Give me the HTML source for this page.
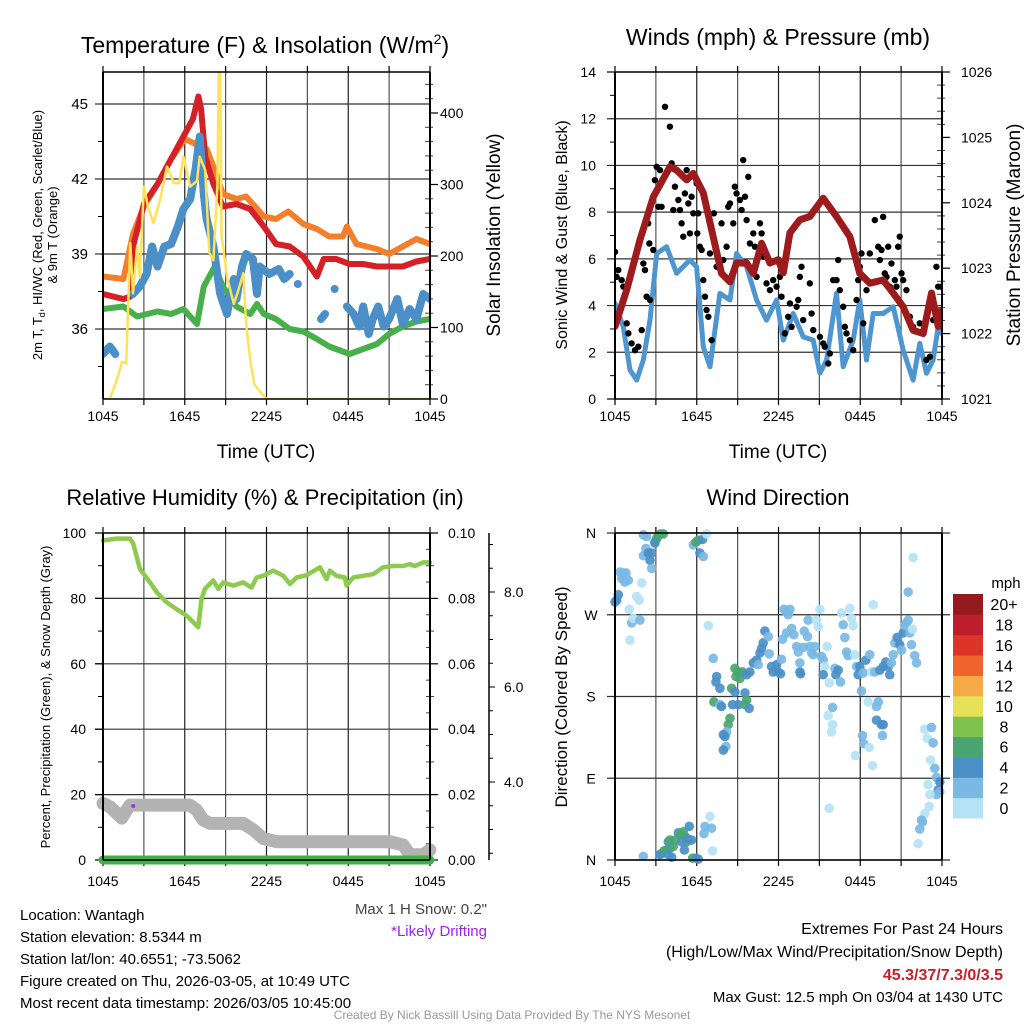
<!DOCTYPE html>
<html><head><meta charset="utf-8"><style>
body{margin:0;background:#fff;}
svg{display:block;font-family:"Liberation Sans",Arial,sans-serif;}
</style></head><body>
<svg id="c" width="1024" height="1024" viewBox="0 0 1024 1024" xmlns="http://www.w3.org/2000/svg">
<defs>
<clipPath id="cp1"><rect x="103" y="72" width="327" height="327"/></clipPath>
<clipPath id="cp2"><rect x="615" y="72" width="327" height="327"/></clipPath>
<clipPath id="cp3"><rect x="96" y="526" width="341" height="341"/></clipPath>
<clipPath id="cp4"><rect x="608" y="526" width="341" height="341"/></clipPath>
</defs>
</svg>
<script>
// ---------- Panel 1 data: temperature & insolation ----------
const redH=[0,1.5,2,2.2,3,4,5,5.9,6.6,7,7.2,7.5,8.1,8.8,9.8,10.8,11.8,12.7,13.7,14.7,15.7,16.2,17.1,18.1,19.1,20.1,21,22,23,24];
const redT=[37.4,37.2,37.3,39.3,41.0,41.8,42.8,43.7,44.4,45.3,44.8,42.9,41.8,40.9,41.0,40.8,40.1,39.4,39.3,38.9,38.1,38.8,38.8,38.6,38.6,38.5,38.5,38.5,38.7,38.8];
const orH=[0,1.5,2.2,3,4,5,6,7.6,8.3,8.8,9.8,10.5,11.8,12.7,13.6,14.7,15.7,16.6,17.6,17.9,18.6,20.1,21,22,23,24];
const orT=[38.1,38.0,39.8,40.9,41.8,42.8,43.6,43.2,42.2,41.4,41.2,41.3,40.5,40.4,40.7,40.2,40.0,39.7,39.7,40.1,39.4,39.2,39.0,39.3,39.6,39.4];
const grH=[0,1.5,2.5,4,5,5.9,6.9,7.4,8.2,8.8,9.8,10.8,11.3,11.8,12.7,13.7,14.7,15.7,16.6,18.1,19.1,20.1,21,22,23,24];
const grT=[36.8,36.9,36.5,36.7,36.6,36.8,36.2,37.7,38.5,37.7,36.9,36.6,37.0,36.6,36.4,36.0,35.9,35.6,35.3,35.0,35.2,35.4,35.8,36.1,36.3,36.4];
const blH=[0,0.5,0.9,null,2.2,2.7,3.2,3.6,4,4.5,5,5.5,5.9,6.4,6.8,7.1,7.4,7.6,8.1,8.6,9.1,9.6,9.8,10.2,10.5,11,11.3,11.5,12.2,12.9,13.3,13.7,null,14.3,null,16,16.3,null,17,null,17.9,18.4,18.8,19.1,19.5,19.8,20.2,20.6,21,21.6,22,22.5,23,23.5,24];
const blT=[35.0,35.3,35.0,null,37.4,37.7,38.2,39.3,38.5,39.3,39.4,40.1,40.8,41.2,42.4,43.7,41.4,40.4,39.3,37.4,36.6,38.0,37.2,38.5,39.0,38.8,37.4,38.5,38.2,38.4,38.0,38.2,null,37.8,null,36.4,36.6,null,37.6,null,36.9,36.6,36.1,36.9,35.8,36.4,36.9,36.1,36.4,37.2,36.2,36.8,36.4,37.4,37.2];
const soH=[0,0.5,1,1.4,1.7,2,2.2,2.5,2.7,3,3.3,3.7,4.2,4.7,5.2,5.6,5.9,6.4,6.9,7.1,7.5,7.8,8.1,8.4,8.5,8.6,8.7,9.1,9.6,9.9,10.3,10.5,10.8,11.1,11.6,12,24];
const soV=[0,0,26,52,50,218,148,213,170,297,269,246,279,325,302,302,339,297,305,339,320,204,194,300,470,470,230,171,133,150,176,106,55,21,9,0,0];
const tempTicks=[36,39,42,45];
const solarTicks=[0,100,200,300,400];
const timeLabels=["1045","1645","2245","0445","1045"];
// ---------- Panel 2 data: winds & pressure ----------
const prH=[0,0.86,1.83,2.81,4.03,4.52,5.26,5.75,6.48,7.21,7.82,8.44,8.92,9.66,10.15,10.76,11.37,11.98,12.35,12.84,13.57,14.3,15.28,16.26,17.24,17.97,18.7,19.68,20.42,21.15,21.88,22.62,23.23,23.72,23.96];
const prP=[1022.11,1022.67,1023.43,1024.09,1024.55,1024.50,1024.35,1024.45,1024.15,1023.48,1022.92,1022.79,1023.08,1023.08,1022.92,1023.38,1023.08,1023.13,1022.93,1023.54,1023.74,1023.79,1024.07,1023.79,1023.48,1022.92,1022.77,1022.82,1022.62,1022.41,1022.05,1022.0,1022.62,1022.11,1022.36];
const wsH=[0,0.61,1.1,1.59,2.08,2.57,3.06,3.79,4.52,5.5,5.99,6.48,6.97,7.7,8.44,8.92,9.66,10.39,11.12,11.86,12.35,13.08,13.81,14.55,15.04,15.53,16.26,16.75,17.48,17.97,18.46,18.95,19.68,20.42,21.15,21.88,22.37,22.86,23.35,23.72,23.96];
const wsV=[4.09,3.09,1.24,0.81,1.67,3.38,6.23,6.52,5.38,5.95,5.66,2.24,1.38,4.52,4.24,6.23,5.66,4.24,3.38,4.24,2.52,3.66,2.66,2.52,1.1,1.67,4.52,1.38,2.52,4.24,1.67,3.66,3.66,3.95,2.09,0.81,2.38,1.1,1.67,3.09,2.81];
const gustH=[0,0.12,0.24,0.49,0.61,0.86,0.98,1.22,1.47,1.71,1.96,2.08,2.2,2.32,2.44,2.52,2.57,2.81,2.93,3.06,3.18,3.3,3.42,3.67,4.03,4.16,4.28,4.4,4.65,4.77,4.89,5.01,5.13,5.26,5.38,5.5,5.62,5.75,5.99,6.04,6.11,6.23,6.36,6.48,6.6,6.72,6.85,6.97,7.09,7.26,7.46,7.82,7.95,8.19,8.31,8.44,8.68,8.8,8.92,9.17,9.29,9.41,9.54,9.66,9.78,9.9,10.15,10.27,10.39,10.64,10.76,10.88,11.12,11.37,11.61,11.86,12.1,12.22,12.47,12.71,12.84,12.96,13.33,13.45,13.57,13.69,13.81,14.3,14.43,14.55,15.04,15.28,15.4,15.65,15.77,16.01,16.26,16.38,16.5,16.75,16.87,16.99,17.24,17.48,17.73,17.85,17.97,18.09,18.22,18.46,18.7,19.07,19.32,19.44,19.56,19.68,19.8,19.93,20.05,20.17,20.29,20.54,20.66,20.78,20.9,21.03,21.15,21.39,21.64,21.88,22.37,22.86,23.11,23.35,23.59,23.72,23.96];
const gustV=[6.30,5.23,5.52,5.09,4.81,3.24,2.81,2.38,2.09,2.24,2.95,5.80,5.52,4.38,7.52,6.66,4.24,6.38,9.37,9.94,8.23,9.80,8.23,12.51,11.66,10.09,8.09,9.09,8.52,8.09,7.52,6.95,8.8,9.8,8.37,7.09,8.66,7.95,9.23,7.09,7.95,6.52,6.38,5.09,4.38,3.81,3.52,6.23,2.52,7.95,5.66,7.52,5.95,6.52,8.23,8.37,7.52,9.09,8.8,8.52,8.09,10.23,8.66,7.66,9.51,6.66,7.09,6.52,5.23,7.52,7.09,6.09,4.95,4.66,5.09,4.81,5.23,4.38,2.81,3.52,4.09,3.09,3.95,4.24,5.23,5.66,3.38,4.95,3.66,2.95,2.66,2.38,2.24,1.52,1.95,5.09,5.09,5.95,4.66,3.95,3.09,2.81,2.52,2.09,4.24,5.09,5.66,6.23,3.24,4.66,6.23,7.66,6.52,5.95,6.38,7.8,5.38,5.23,6.52,4.81,5.8,5.09,4.81,6.52,6.95,5.38,5.09,4.66,3.52,3.09,3.24,1.67,1.81,3.38,5.66,4.81,4.81];
const windTicks=[0,2,4,6,8,10,12,14];
const presTicks=[1021,1022,1023,1024,1025,1026];
// ---------- Panel 3 data: RH, precip, snow ----------
const rhH=[0,1.0,1.98,2.22,2.71,3.45,3.94,4.67,5.4,6.14,6.63,6.99,7.24,7.48,8.09,8.46,8.83,9.56,10.29,10.9,11.27,11.76,12.49,13.23,13.72,14.21,14.94,15.92,16.41,16.65,17.14,17.75,17.87,18.36,19.34,19.83,20.56,21.3,22.03,22.52,22.88,23.5,23.99];
const rhV=[97.7,98.3,98.3,96.8,89.0,84.9,81.9,78.8,76.7,74.7,72.7,71.2,79.9,82.9,85.5,82.9,84.9,83.9,84.9,83.3,86.4,86.9,88.5,86.9,84.4,86.4,87.1,89.5,85.9,88.5,86.9,86.4,83.9,86.4,87.1,87.4,89.5,89.9,89.9,90.5,89.9,91.0,91.0];
const sdH=[0,0.51,1.0,1.37,1.74,1.98,6.38,6.87,7.36,7.85,10.29,11.03,11.76,12.74,21.05,22.03,22.52,23.5,23.99];
const sdV=[17.3,16.3,14.3,12.8,15.3,16.8,16.8,15.3,12.2,11.2,11.2,9.2,6.6,5.6,5.6,4.6,1.6,1.6,3.1];
const pcH=[0,24];
const pcV=[0,0];
const driftH=[2.22];
const driftV=[16.5];
const rhTicks=[0,20,40,60,80,100];
const precipTicks=["0.00","0.02","0.04","0.06","0.08","0.10"];
const snowTicks=[4,6,8];
// ---------- Panel 4 data: wind direction ----------
const dirH=[0.12,0,0.24,0.37,0.61,0.49,0.73,0.98,0.81,1.05,1.22,1.34,1.59,1.78,1.83,1.96,1.1,2.08,2.32,2.27,2.08,2.44,2.69,2.57,2.69,2.93,3.06,3.18,3.35,3.55,2.93,5.75,5.94,6.11,6.43,6.23,6.48,6.72,6.85,7.21,7.46,7.41,7.7,7.26,7.7,7.82,8.63,8.44,8.31,8.19,7.95,8.07,8.14,7.95,8.56,8.8,8.8,9.05,8.88,9.17,9.36,9.05,9.54,9.66,9.54,9.85,9.66,9.9,10.15,10.39,10.64,10.51,10.76,10.88,11.0,11.25,11.32,11.49,11.61,11.86,11.98,12.15,12.22,12.3,12.4,12.59,12.84,12.71,12.59,12.96,13.13,13.33,13.45,13.57,13.62,13.57,13.81,13.89,14.13,14.18,14.3,14.43,14.55,14.67,14.79,14.91,15.04,15.16,15.28,15.4,15.28,15.57,15.72,16.14,16.21,16.38,16.55,16.63,16.75,16.87,16.99,17.11,17.24,17.36,17.48,17.6,17.73,17.85,17.97,18.09,18.22,18.41,18.58,18.7,18.83,18.95,19.07,19.19,19.32,19.44,19.68,19.88,20.05,20.17,20.29,19.19,19.56,19.68,19.63,18.17,18.26,18.66,18.9,17.65,15.65,15.97,15.97,15.89,15.72,20.42,20.54,20.71,20.9,21.03,21.15,21.27,21.39,21.52,21.64,21.76,21.83,22.0,22.13,21.52,21.88,22.74,22.91,23.23,23.35,23.15,23.47,23.59,23.84,23.72,23.84,23.59,22.98,23.11,23.06,22.74,22.49,22.57,22.37,22.25,2.08,3.3,3.42,3.59,3.79,4.03,4.28,4.16,3.91,4.03,4.4,4.65,4.77,5.01,5.13,5.26,5.38,4.89,5.09,5.45,5.62,5.7,6.11,5.94,6.53,6.6,6.97,7.09,7.16,3.91];
const dirV=[286,284,292,317,316,310,306,308,316,276,261,266,290,286,264,305,242,358,356,343,335,338,338,330,321,350,354,357,359,359,349,347,350,352,353,338,334,359,258,222,202,196,189,174,171,169,171,156,149,141,138,136,125,121,189,185,211,207,202,200,207,171,184,176,171,167,204,207,217,220,228,215,233,239,252,246,227,213,207,215,207,205,221,243,276,273,276,270,250,255,248,235,229,207,205,217,234,252,246,264,235,228,226,235,264,257,276,224,220,213,204,235,195,211,204,209,196,272,259,245,229,225,277,266,258,226,213,204,213,186,206,220,174,226,207,281,207,169,174,209,213,218,213,204,217,154,149,149,137,137,128,124,104,115,159,168,149,141,57,226,239,245,237,231,250,258,261,264,250,237,254,225,217,295,333,144,134,146,129,110,101,91,86,77,75,72,83,72,59,51,44,42,34,18,4,6,7,10,11,13,15,3,20,22,22,30,28,31,26,20,23,20,11,37,22,2,1,2,29,37,48,35,10,6];
const dirS=[5,5,5,3,3,3,3,3,3,1,3,1,1,1,3,1,1,3,3,3,3,5,5,5,3,7,7,7,7,7,5,3,7,7,5,5,3,1,1,3,5,5,5,7,3,5,5,7,7,3,5,5,3,5,7,5,7,7,7,7,7,5,5,7,7,5,5,5,5,5,5,3,5,5,5,3,3,5,5,5,5,5,3,3,3,3,3,3,3,3,3,3,3,5,5,3,3,3,3,3,3,3,3,3,1,1,1,3,3,1,5,1,1,3,5,5,3,1,3,3,3,3,1,1,1,1,3,5,5,3,3,5,1,3,1,1,3,3,3,5,5,5,5,5,3,5,5,5,3,3,3,1,1,1,1,3,1,1,1,3,3,5,5,3,5,3,3,3,3,3,1,3,3,3,1,1,1,3,3,1,3,3,5,5,3,3,1,1,1,1,3,3,3,1,3,5,5,7,7,7,7,5,5,7,7,5,7,7,7,7,5,5,5,5,5,7,5,5,3,3,1,3,1,5];
const dirLabels=["N","E","S","W","N"];
const speedBins=["0","2","4","6","8","10","12","14","16","18","20+"];
const speedColors=["#b5e3f6","#7ab9e4","#4a8fc6","#4aa670","#7fc34c","#e6e158","#f5aa46","#f0632c","#de3427","#be1e2b","#951a1d"];

// ---------- helpers ----------
const svg=document.getElementById('c');
const NS='http://www.w3.org/2000/svg';
function mk(tag,attrs,parent){const e=document.createElementNS(NS,tag);for(const k in attrs)e.setAttribute(k,attrs[k]);(parent||svg).appendChild(e);return e;}
function txt(s,x,y,size,anchor,parent,extra){const t=mk('text',Object.assign({x:x,y:y,'font-size':size,'text-anchor':anchor||'middle',fill:'#000'},extra||{}),parent);t.textContent=s;return t;}
function pathFrom(hs,vs,xf,yf){let d='',pen=false;for(let i=0;i<hs.length;i++){if(hs[i]===null||vs[i]===null){pen=false;continue;}d+=(pen?'L':'M')+xf(hs[i]).toFixed(1)+' '+yf(vs[i]).toFixed(1);pen=true;}return d;}
function segs(hs,vs){const out=[];let cur=[];for(let i=0;i<hs.length;i++){if(hs[i]===null){if(cur.length)out.push(cur);cur=[];}else cur.push([hs[i],vs[i]]);}if(cur.length)out.push(cur);return out;}
function frame(g,x0,y0,w,h){
  const xs=i=>x0+i*w/8;
  for(let i=1;i<8;i++){const l=mk('line',{x1:xs(i),y1:y0,x2:xs(i),y2:y0+h,stroke:i%2?'#555':'#222','stroke-width':1.2},g);
    
    }
  for(let i=0;i<=8;i++){mk('line',{x1:xs(i),y1:y0-6,x2:xs(i),y2:y0,stroke:'#000','stroke-width':1.2},g);mk('line',{x1:xs(i),y1:y0+h,x2:xs(i),y2:y0+h+6,stroke:'#000','stroke-width':1.2},g);}
}
function border(g,x0,y0,w,h){
  mk('line',{x1:x0,y1:y0,x2:x0,y2:y0+h,stroke:'#000','stroke-width':2},g);
  mk('line',{x1:x0+w,y1:y0,x2:x0+w,y2:y0+h,stroke:'#000','stroke-width':2},g);
  mk('line',{x1:x0,y1:y0,x2:x0+w,y2:y0,stroke:'#000','stroke-width':1.5},g);
  mk('line',{x1:x0,y1:y0+h,x2:x0+w,y2:y0+h,stroke:'#000','stroke-width':1.5},g);
}
function hgrid(g,x0,w,y,ext){const l=mk('line',{x1:x0-(ext||8),y1:y,x2:x0+w+(ext||0),y2:y,stroke:'#333','stroke-width':1.2},g);
  
  }
function xlabels(g,x0,w,y){for(let i=0;i<timeLabels.length;i++){const t=txt(timeLabels[i],x0+i*w/4,y,14,'middle',g);
  
  }}

// ================= PANEL 1 =================
(function(){
const g=mk('g',{});


const x0=103,y0=72,W=327,H=327;
const xT=h=>x0+h*W/24, yT=t=>104+(45-t)*25, yS=v=>399-v*0.715;
const t=txt('',265,53,23,'middle',g);t.innerHTML='Temperature (F) &amp; Insolation (W/m<tspan dy="-9" font-size="14">2</tspan><tspan dy="9">)</tspan>';

frame(g,x0,y0,W,H);
tempTicks.forEach(v=>{hgrid(g,x0,W,yT(v));const l=txt(v,88,yT(v)+5,15,'end',g);
  });
for(let v=34.5;v<46.5;v+=3){mk('line',{x1:x0-5,y1:yT(v),x2:x0,y2:yT(v),stroke:'#000'},g);}
solarTicks.forEach(v=>{mk('line',{x1:x0+W,y1:yS(v),x2:x0+W+8,y2:yS(v),stroke:'#000','stroke-width':1.2},g);const l=txt(v,440,yS(v)+5,14,'start',g);
  });
for(let v=20;v<460;v+=20){if(v%100)mk('line',{x1:x0+W-5,y1:yS(v),x2:x0+W+3,y2:yS(v),stroke:'#444'},g);}
const c=mk('g',{'clip-path':'url(#cp1)'},g);
const s1=mk('path',{d:pathFrom(orH,orT,xT,yT),fill:'none',stroke:'#f47f2a','stroke-width':6,'stroke-linejoin':'round','stroke-linecap':'round'},c);

const s2=mk('path',{d:pathFrom(redH,redT,xT,yT),fill:'none',stroke:'#d42027','stroke-width':6,'stroke-linejoin':'round','stroke-linecap':'round'},c);

const s3=mk('path',{d:pathFrom(grH,grT,xT,yT),fill:'none',stroke:'#48b04a','stroke-width':6,'stroke-linejoin':'round','stroke-linecap':'round'},c);

segs(blH,blT).forEach(sg=>{
  if(sg.length===1){const d=mk('circle',{cx:xT(sg[0][0]),cy:yT(sg[0][1]),r:4,fill:'#4a8fc8'},c);
    }
  else{const p=mk('path',{d:pathFrom(sg.map(a=>a[0]),sg.map(a=>a[1]),xT,yT),fill:'none',stroke:'#4a8fc8','stroke-width':8,'stroke-linejoin':'round','stroke-linecap':'round'},c);
    }
});
const s4=mk('path',{d:pathFrom(soH,soV,xT,yS),fill:'none',stroke:'#fde25a','stroke-width':2.5,'stroke-linejoin':'round'},c);

border(g,x0,y0,W,H);
xlabels(g,x0,W,421);
const xl=txt('Time (UTC)',266,458,19,'middle',g);
const yl=mk('text',{transform:'translate(42,235) rotate(-90)','font-size':13,'text-anchor':'middle',fill:'#000'},g);
yl.innerHTML='2m T, T<tspan dy="3" font-size="9">d</tspan><tspan dy="-3">, HI/WC (Red, Green, Scarlet/Blue)</tspan>';

const yl2=mk('text',{transform:'translate(57,235) rotate(-90)','font-size':13,'text-anchor':'middle',fill:'#000'},g);yl2.textContent='& 9m T (Orange)';

const yr=mk('text',{transform:'translate(500,235) rotate(-90)','font-size':19,'text-anchor':'middle',fill:'#000'},g);yr.textContent='Solar Insolation (Yellow)';

})();

// ================= PANEL 2 =================
(function(){
const g=mk('g',{});


const x0=615,y0=72,W=327,H=327;
const xW=h=>x0+h*W/24, yW=w=>399-w*W/14, yP=p=>399-(p-1021)*65.4;
const t=txt('Winds (mph) & Pressure (mb)',778,45,23,'middle',g);

frame(g,x0,y0,W,H);
windTicks.forEach(v=>{if(v>0&&v<14)hgrid(g,x0,W,yW(v));else mk('line',{x1:x0-8,y1:yW(v),x2:x0,y2:yW(v),stroke:'#000','stroke-width':1.2},g);
  const l=txt(v,596,yW(v)+5,14,'end',g);});
for(let v=1;v<14;v+=2)mk('line',{x1:x0-5,y1:yW(v),x2:x0,y2:yW(v),stroke:'#000'},g);
presTicks.forEach(v=>{mk('line',{x1:x0+W,y1:yP(v),x2:x0+W+8,y2:yP(v),stroke:'#000','stroke-width':1.2},g);const l=txt(v,961,yP(v)+5,14,'start',g);
  });
for(let i=1;i<25;i++){if(i%5)mk('line',{x1:x0+W-5,y1:yP(1021+i*0.2),x2:x0+W+3,y2:yP(1021+i*0.2),stroke:'#444'},g);}
const c=mk('g',{'clip-path':'url(#cp2)'},g);
const s1=mk('path',{d:pathFrom(wsH,wsV,xW,yW),fill:'none',stroke:'#4f96d1','stroke-width':5,'stroke-linejoin':'round','stroke-linecap':'round'},c);

gustH.forEach((h,i)=>{const d=mk('circle',{cx:xW(h),cy:yW(gustV[i]),r:3.2,fill:'#000'},c);
  
  });
const s2=mk('path',{d:pathFrom(prH,prP,xW,yP),fill:'none',stroke:'#9e1b1d','stroke-width':7,'stroke-linejoin':'round','stroke-linecap':'round'},c);

border(g,x0,y0,W,H);
xlabels(g,x0,W,421);
const xl=txt('Time (UTC)',778,458,19,'middle',g);
const yl=mk('text',{transform:'translate(567,235) rotate(-90)','font-size':16,'text-anchor':'middle',fill:'#000'},g);yl.textContent='Sonic Wind & Gust (Blue, Black)';

const yr=mk('text',{transform:'translate(1020,235) rotate(-90)','font-size':19,'text-anchor':'middle',fill:'#000'},g);yr.textContent='Station Pressure (Maroon)';

})();

// ================= PANEL 3 =================
(function(){
const g=mk('g',{});


const x0=103,y0=533,W=327,H=327;
const xR=h=>x0+h*W/24, yR=v=>860-v*3.27, ySn=v=>782-(v-4)*47.5;
const t=txt('Relative Humidity (%) & Precipitation (in)',265,505,22,'middle',g);

frame(g,x0,y0,W,H);
rhTicks.forEach((v,i)=>{if(v>0&&v<100)hgrid(g,x0,W,yR(v),0);
  mk('line',{x1:x0-8,y1:yR(v),x2:x0,y2:yR(v),stroke:'#000','stroke-width':1.2},g);
  mk('line',{x1:x0+W,y1:yR(v),x2:x0+W+8,y2:yR(v),stroke:'#000','stroke-width':1.2},g);
  const l=txt(v,86,yR(v)+5,14,'end',g);
  const r=txt(precipTicks[i],448,yR(v)+5,14,'start',g);});
for(let v=10;v<100;v+=20){mk('line',{x1:x0-5,y1:yR(v),x2:x0,y2:yR(v),stroke:'#000'},g);mk('line',{x1:x0+W-4,y1:yR(v),x2:x0+W+4,y2:yR(v),stroke:'#444'},g);}
for(let v=5;v<100;v+=10){mk('line',{x1:x0+W-4,y1:yR(v),x2:x0+W,y2:yR(v),stroke:'#444'},g);}
// snow axis
const sa=mk('line',{x1:489,y1:533,x2:489,y2:860,stroke:'#000','stroke-width':1.5},g);

for(let v=2.5;v<=9;v+=0.5)mk('line',{x1:489,y1:ySn(v),x2:489+(v%2===0?6:4),y2:ySn(v),stroke:'#000'},g);
snowTicks.forEach(v=>{const l=txt(v.toFixed(1),504,ySn(v)+5,14,'start',g);});
const c=mk('g',{'clip-path':'url(#cp3)'},g);
const s1=mk('path',{d:pathFrom(sdH,sdV,xR,yR),fill:'none',stroke:'#b3b3b3','stroke-width':13,'stroke-linejoin':'round','stroke-linecap':'round'},c);

const s2=mk('path',{d:pathFrom(pcH,pcV,xR,yR),fill:'none',stroke:'#3fb043','stroke-width':9,'stroke-linecap':'round'},c);

const s3=mk('path',{d:pathFrom(rhH,rhV,xR,yR),fill:'none',stroke:'#8ccb4e','stroke-width':4.5,'stroke-linejoin':'round','stroke-linecap':'round'},c);

driftH.forEach((h,i)=>{const d=mk('circle',{cx:xR(h),cy:yR(driftV[i]),r:2,fill:'#9b30f0'},c);
  
  });
border(g,x0,y0,W,H);
xlabels(g,x0,W,886);
const yl=mk('text',{transform:'translate(50,697) rotate(-90)','font-size':13,'text-anchor':'middle',fill:'#000'},g);yl.textContent='Percent, Precipitation (Green), & Snow Depth (Gray)';

})();

// ================= PANEL 4 =================
(function(){
const g=mk('g',{});


const x0=615,y0=533,W=327,H=327;
const xD=h=>x0+h*W/24, yD=d=>860-d*H/360;
const t=txt('Wind Direction',778,505,22,'middle',g);

frame(g,x0,y0,W,H);
dirLabels.forEach((s,i)=>{hgrid(g,x0,W,yD(i*90),8);const l=txt(s,591,yD(i*90)+5,14,'middle',g);
  });
const c=mk('g',{'clip-path':'url(#cp4)'},g);
function colorFor(s){let i=Math.floor(s/2);if(i>10)i=10;return speedColors[i];}
dirH.forEach((h,i)=>{const d=mk('circle',{cx:xD(h),cy:yD(dirV[i]),r:4.8,fill:colorFor(dirS[i]),'fill-opacity':0.92},c);
  
  });
border(g,x0,y0,W,H);
xlabels(g,x0,W,886);
const yl=mk('text',{transform:'translate(567,697) rotate(-90)','font-size':17,'text-anchor':'middle',fill:'#000'},g);yl.textContent='Direction (Colored By Speed)';

// colorbar
const cb=mk('g',{},g);


const nb=speedBins.length, bh=224/nb;
for(let i=0;i<nb;i++){
  const r=mk('rect',{x:953,y:818-(i+1)*bh,width:30,height:bh+0.5,fill:speedColors[i]},cb);
  
  
  const l=txt(speedBins[i],1004,818-(i+0.5)*bh+6,16,'middle',cb);
  }
const u=txt('mph',1006,588,15,'middle',cb);
})();

// ================= Footer text =================
(function(){
const g=mk('g',{});


const lines=['Location: Wantagh','Station elevation: 8.5344 m','Station lat/lon: 40.6551; -73.5062','Figure created on Thu, 2026-03-05, at 10:49 UTC','Most recent data timestamp: 2026/03/05 10:45:00'];
lines.forEach((s,i)=>{const t=txt(s,20,920+i*22,15,'start',g);});
const a=txt('Max 1 H Snow: 0.2"',487,914,15,'end',null,{fill:'#444'});
const b=txt('*Likely Drifting',487,936,15,'end',null,{fill:'#a020f0'});
const r1=txt('Extremes For Past 24 Hours',1003,934,16,'end');
const r2=txt('(High/Low/Max Wind/Precipitation/Snow Depth)',1003,957,16,'end');
const r3=txt('45.3/37/7.3/0/3.5',1003,980,16,'end',null,{fill:'#c8202a','font-weight':'bold'});
const r4=txt('Max Gust: 12.5 mph On 03/04 at 1430 UTC',1003,1002,15,'end');
const cr=txt('Created By Nick Bassill Using Data Provided By The NYS Mesonet',512,1019,12,'middle',null,{fill:'#999'});
})();
</script>
</body></html>
